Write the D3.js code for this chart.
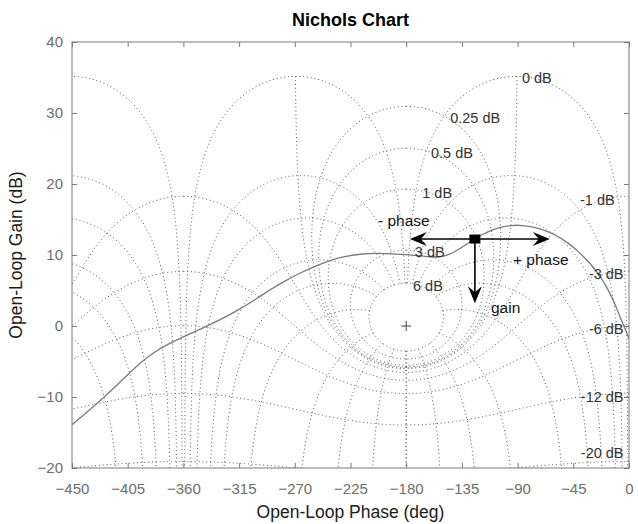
<!DOCTYPE html>
<html>
<head>
<meta charset="utf-8">
<script src="https://cdn.jsdelivr.net/npm/d3@7"></script>
<style>
  body { margin: 0; background: #fff; }
  svg { font-family: "Liberation Sans", Arial, Helvetica, sans-serif; }
</style>
</head>
<body>
<svg id="chart" width="638" height="524"></svg>
<script>
// open-loop response
var olPhase = [-450, -440, -427, -415, -405, -395, -383, -373, -360, -345, -330, -315, -300, -290,
  -278, -266, -254, -242, -230, -217, -204, -188, -172, -160, -153, -145, -137, -130, -124.5,
  -118, -112, -104, -95, -86, -76, -64, -56, -48, -41, -34, -28, -23, -18, -13, -10, -7, -4, -1.5, 0];
var olGain = [-13.9, -12.45, -10.5, -8.55, -6.85, -5.2, -3.6, -2.6, -1.5, -0.35, 0.9, 2.3, 3.95, 5.1,
  6.35, 7.45, 8.4, 9.2, 9.8, 10.15, 10.25, 10.15, 9.95, 9.72, 9.68, 10.05, 10.85, 11.65, 12.3,
  12.95, 13.45, 13.9, 14.2, 14.2, 13.9, 13.25, 12.5, 11.55, 10.5, 9.3, 8.1, 6.9, 5.5, 3.75, 2.5, 1.2, -0.1, -1.1, -1.8];

// closed-loop gain lines (dB) and phase lines (deg) of the chart grid
var clGains = [6, 3, 1, 0.5, 0.25, 0, -1, -3, -6, -12, -20];
var clPhases = [1, 5, 10, 20, 30, 50, 90, 120, 150, 180];

var gridLabelText = ["0 dB", "0.25 dB", "0.5 dB", "1 dB", "3 dB", "6 dB", "-1 dB", "-3 dB", "-6 dB", "-12 dB", "-20 dB"];
var gridLabelPhase = [-86.5, -144.5, -160, -167, -173, -174.5, -11.6, -4.4, -4.4, -4.4, -4.4];
var gridLabelGain = [34.9, 29.3, 24.4, 18.7, 10.4, 5.6, 17.7, 7.3, -0.4, -10, -17.9];

var phaseTicks = [-450, -405, -360, -315, -270, -225, -180, -135, -90, -45, 0];
var gainTicks = [-20, -10, 0, 10, 20, 30, 40];

// response marker and the three direction arrows
var markPhase = -124.5, markGain = 12.25;
var arrowPhase = [-177, -64, -124.5];
var arrowGain = [12.25, 12.25, 3.2];
var noteText = ["- phase", "+ phase", "gain"];
var notePhase = [-202.8, -93.7, -111.5];
var noteGain = [14.9, 9.4, 2.6];

var svg = d3.select("#chart"),
    margin = {top: 42, right: 9, bottom: 56, left: 72},
    width = +svg.attr("width") - margin.left - margin.right,
    height = +svg.attr("height") - margin.top - margin.bottom;

var x = d3.scaleLinear().domain([-450, 0]).range([0, width]);
var y = d3.scaleLinear().domain([-20, 40]).range([height, 0]);

var g = svg.append("g").attr("transform", "translate(" + margin.left + "," + margin.top + ")");

svg.append("defs").append("clipPath").attr("id", "plot")
  .append("rect").attr("width", width).attr("height", height);

// ---- nichols grid ----
function rad(d) { return d * Math.PI / 180; }
function deg(r) { return r * 180 / Math.PI; }

// open-loop point giving closed loop T = mag * e^(-j ph)
function openLoop(mag, ph) {
  var re = 1 - mag * Math.cos(rad(ph)), im = mag * Math.sin(rad(ph));
  return [-ph - deg(Math.atan2(im, re)), 20 * Math.log10(mag / Math.hypot(re, im))];
}

var lines = [];
var pSteps = d3.range(0, 10, 0.2).concat(d3.range(10, 180.01, 1));
clGains.forEach(function(db) {
  var m = Math.pow(10, db / 20);
  lines.push(pSteps.filter(function(p) { return db !== 0 || p >= 1; })
    .map(function(p) { return openLoop(m, p); }));
});
var tSteps = d3.range(6, 1, -0.1)
  .concat(d3.range(1, -1, -0.005))
  .concat(d3.range(-1, -6, -0.1))
  .concat(d3.range(-6, -60, -0.5));
clPhases.forEach(function(ph) {
  lines.push(tSteps.map(function(db) { return openLoop(Math.pow(10, db / 20), ph); }));
});

// mirror about -180 and repeat every 360 deg
var allLines = [];
lines.forEach(function(l) {
  [0, -360].forEach(function(shift) {
    allLines.push(l.map(function(d) { return [d[0] + shift, d[1]]; }));
    allLines.push(l.map(function(d) { return [-360 - d[0] + shift, d[1]]; }));
  });
});

var line = d3.line()
    .x(function(d) { return x(d[0]); })
    .y(function(d) { return y(d[1]); });

var plot = g.append("g").attr("clip-path", "url(#plot)");

plot.append("g").attr("class", "grid")
  .selectAll("path")
  .data(allLines)
  .enter().append("path")
    .attr("d", line)
    .attr("fill", "none")
    .attr("stroke", "#555")
    .attr("stroke-width", 1)
    .attr("stroke-dasharray", "1,2.8");

// critical point
g.append("path")
    .attr("d", "M" + (x(-180) - 5) + "," + y(0) + "h10M" + x(-180) + "," + (y(0) - 5) + "v10")
    .attr("stroke", "#444")
    .attr("stroke-width", 1);

g.append("g").selectAll("text")
  .data(gridLabelText)
  .enter().append("text")
    .attr("x", function(d, i) { return x(gridLabelPhase[i]); })
    .attr("y", function(d, i) { return y(gridLabelGain[i]); })
    .attr("dy", "0.35em")
    .attr("text-anchor", function(d) { return d.charAt(0) === "-" ? "end" : "start"; })
    .attr("font-size", "14.5px")
    .attr("fill", "#333")
    .text(function(d) { return d; });

// ---- response ----
plot.append("path")
    .datum(olPhase.map(function(p, i) { return [p, olGain[i]]; }))
    .attr("d", d3.line()
      .x(function(d) { return x(d[0]); })
      .y(function(d) { return y(d[1]); })
      .curve(d3.curveBasis))
    .attr("fill", "none")
    .attr("stroke", "#7a7a7a")
    .attr("stroke-width", 1.3);

// arrows
var ax0 = x(markPhase), ay0 = y(markGain);
arrowPhase.forEach(function(p, i) {
  var x1 = x(p), y1 = y(arrowGain[i]);
  var a = Math.atan2(y1 - ay0, x1 - ax0) * 180 / Math.PI;
  g.append("line")
      .attr("x1", ax0).attr("y1", ay0)
      .attr("x2", x1 - 8 * Math.cos(rad(a))).attr("y2", y1 - 8 * Math.sin(rad(a)))
      .attr("stroke", "#000")
      .attr("stroke-width", 1.6);
  g.append("path")
      .attr("d", "M0,0L-17,-7L-11,0L-17,7Z")
      .attr("transform", "translate(" + x1 + "," + y1 + ") rotate(" + a + ")")
      .attr("fill", "#000");
});

g.append("rect")
    .attr("x", ax0 - 5.5).attr("y", ay0 - 4.5)
    .attr("width", 11).attr("height", 9)
    .attr("fill", "#000");

g.append("g").selectAll("text")
  .data(noteText)
  .enter().append("text")
    .attr("x", function(d, i) { return x(notePhase[i]); })
    .attr("y", function(d, i) { return y(noteGain[i]); })
    .attr("dy", "0.35em")
    .attr("font-size", "15.5px")
    .attr("fill", "#111")
    .text(function(d) { return d; });

// ---- axes ----
var axisColor = "#7a7a7a";

function styleAxis(sel) {
  sel.select(".domain").remove();
  sel.selectAll(".tick line").attr("stroke", axisColor);
  sel.selectAll(".tick text").attr("fill", "#6e6e6e").attr("font-size", "15px");
  sel.attr("font-family", null);
}

g.append("g")
    .attr("transform", "translate(0," + height + ")")
    .call(d3.axisBottom(x).tickValues(phaseTicks).tickSize(-5).tickPadding(15))
    .call(styleAxis);

g.append("g")
    .call(d3.axisTop(x).tickValues(phaseTicks).tickSize(-5).tickFormat(""))
    .call(styleAxis);

g.append("g")
    .call(d3.axisLeft(y).tickValues(gainTicks).tickSize(-5).tickPadding(9))
    .call(styleAxis);

g.append("g")
    .attr("transform", "translate(" + width + ",0)")
    .call(d3.axisRight(y).tickValues(gainTicks).tickSize(-5).tickFormat(""))
    .call(styleAxis);

g.append("rect")
    .attr("width", width)
    .attr("height", height)
    .attr("fill", "none")
    .attr("stroke", axisColor)
    .attr("stroke-width", 1);

g.append("text")
    .attr("x", width / 2)
    .attr("y", -16)
    .attr("text-anchor", "middle")
    .attr("font-size", "18px")
    .attr("font-weight", "bold")
    .attr("fill", "#000")
    .text("Nichols Chart");

g.append("text")
    .attr("x", width / 2)
    .attr("y", height + 50)
    .attr("text-anchor", "middle")
    .attr("font-size", "17.5px")
    .attr("fill", "#1a1a1a")
    .text("Open-Loop Phase (deg)");

g.append("text")
    .attr("transform", "translate(" + (-50) + "," + (height / 2) + ") rotate(-90)")
    .attr("text-anchor", "middle")
    .attr("font-size", "17.5px")
    .attr("fill", "#1a1a1a")
    .text("Open-Loop Gain (dB)");
</script>
</body>
</html>
